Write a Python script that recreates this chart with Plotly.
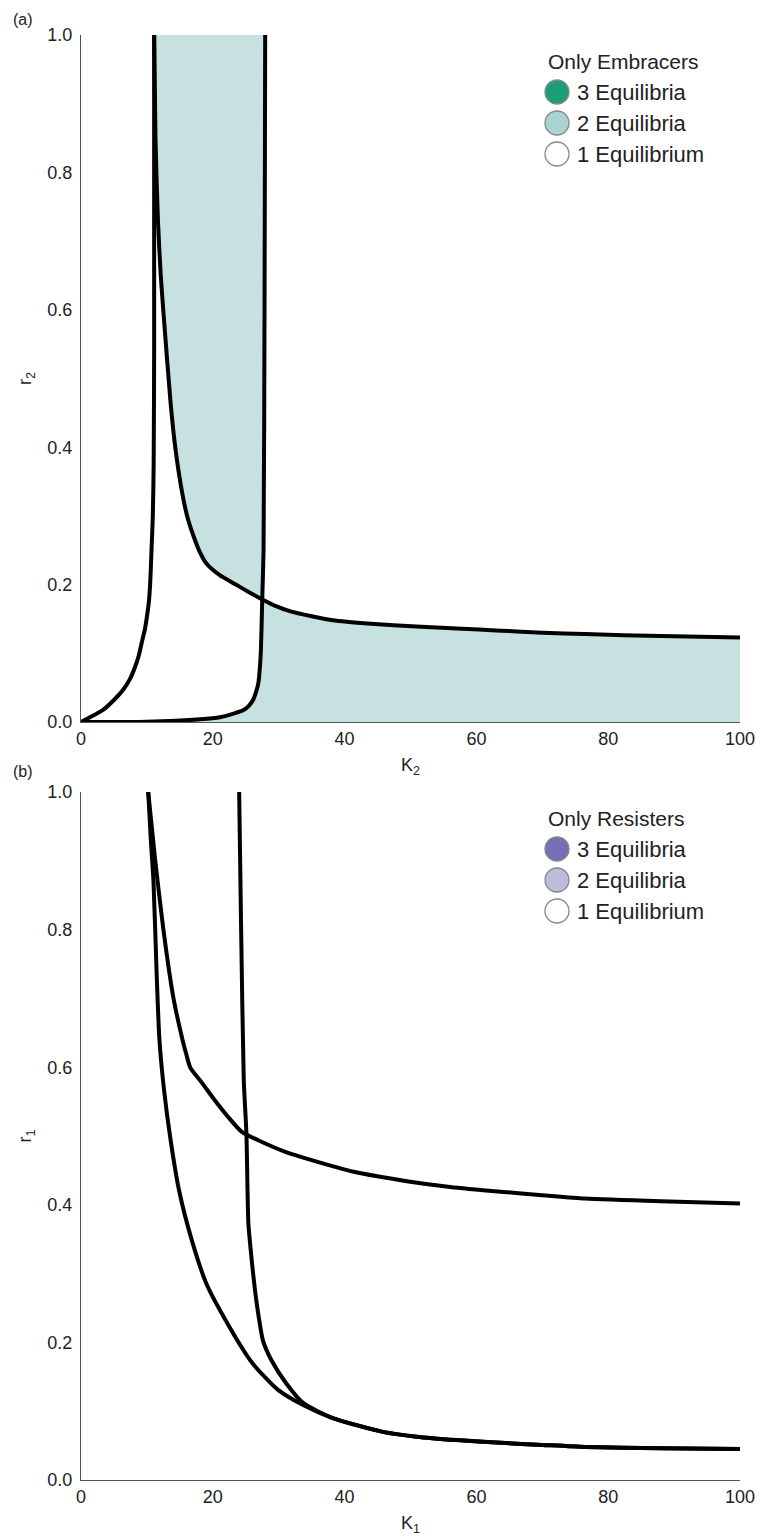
import plotly.graph_objects as go

# ---------------- Data ----------------
# Panel (a): Only Embracers  (x = K2, y = r2)
a1_K = [0, 3.4, 5.0, 6.4, 7.4, 8.2, 8.8, 9.2, 9.7, 10.0, 10.3, 10.5, 10.7, 10.9, 11.03, 11.1, 11.1]
a1_r = [0, 0.018, 0.032, 0.047, 0.062, 0.08, 0.098, 0.115, 0.135, 0.153, 0.175, 0.202, 0.25, 0.30, 0.38, 0.55, 1.0]

a2_K = [0, 10.0, 18.1, 21.1, 23.4, 24.6, 25.5, 26.1, 26.6, 26.9, 27.15, 27.3, 27.5, 27.7, 27.85, 27.95]
a2_r = [0, 0.0005, 0.004, 0.007, 0.013, 0.017, 0.024, 0.032, 0.045, 0.056, 0.08, 0.105, 0.178, 0.25, 0.6, 1.0]

a3_K = [11.1, 11.3, 11.67, 12.1, 12.6, 13.6, 14.3, 15.2, 16.1, 17.1, 18.0, 19.0, 21.0, 23.5, 25.5, 27.6,
        29.5, 31.8, 35.0, 38.2, 44.0, 50.9, 57.0, 63.7, 70.0, 76.5, 88.0, 100]
a3_r = [1.0, 0.85, 0.731, 0.65, 0.585, 0.464, 0.40, 0.342, 0.30, 0.27, 0.248, 0.231, 0.214, 0.2, 0.189, 0.178,
        0.169, 0.161, 0.154, 0.148, 0.143, 0.139, 0.136, 0.133, 0.130, 0.128, 0.125, 0.123]

# crossing of a2 and a3
cross_K, cross_r = 27.55, 0.178

# Panel (b): Only Resisters (x = K1, y = r1)
b1_K = [10.2, 10.6, 11.0, 11.5, 11.9, 12.6, 13.6, 14.9, 16.8, 19.0, 22.2, 26.0, 29.9, 33.7, 38.2, 45.8,
        50.9, 57.0, 63.7, 70.0, 76.5, 88.0, 100]
b1_r = [1.0, 0.93, 0.87, 0.73, 0.64, 0.567, 0.494, 0.42, 0.349, 0.286, 0.228, 0.17, 0.131, 0.109, 0.09, 0.07,
        0.063, 0.058, 0.054, 0.051, 0.048, 0.046, 0.045]

b2_K = [10.2, 11.2, 12.5, 14.0, 15.4, 16.0, 16.6, 18.3, 20.3, 22.3, 24.4, 27.3, 31.0, 35.0, 41.4, 49.7,
        56.0, 63.7, 70.0, 76.5, 88.0, 100]
b2_r = [1.0, 0.906, 0.80, 0.702, 0.64, 0.618, 0.599, 0.578, 0.552, 0.528, 0.506, 0.492, 0.477, 0.465, 0.448, 0.434,
        0.426, 0.419, 0.414, 0.409, 0.405, 0.402]

b3_K = [24.0, 24.3, 24.7, 25.1, 25.4, 25.9, 26.4, 27.0, 27.6, 28.9, 31.1, 33.7]
b3_r = [1.0, 0.8, 0.581, 0.504, 0.373, 0.32, 0.276, 0.235, 0.203, 0.174, 0.141, 0.112]

x_ticks = [0, 20, 40, 60, 80, 100]
y_ticks = [0.0, 0.2, 0.4, 0.6, 0.8, 1.0]

legend_a_title = "Only Embracers"
legend_b_title = "Only Resisters"
legend_labels = ["3 Equilibria", "2 Equilibria", "1 Equilibrium"]
legend_a_colors = ["#1b9e77", "#a9d4d1", "#ffffff"]
legend_b_colors = ["#7570b3", "#bcbddc", "#ffffff"]
fill_a_color = "#c6e1df"

# ---------------- Figure ----------------
W, H = 761, 1539
ML, MR, MT, MB = 81, 21, 35, 59
plot_w = W - ML - MR
plot_h = H - MT - MB
FONT = "Liberation Sans, Arial, Helvetica, sans-serif"
TXT = "#222222"


def px_x(px):
    return (px - ML) / plot_w


def px_y(py):
    return (H - MB - py) / plot_h


fig = go.Figure()

# ----- fills for panel (a) -----
upper_idx = [i for i, r in enumerate(a3_r) if r > cross_r]
lower3_idx = [i for i, r in enumerate(a3_r) if r < cross_r]
upper2_idx = [i for i, r in enumerate(a2_r) if r > cross_r]
lower2_idx = [i for i, r in enumerate(a2_r) if r < cross_r]

poly1_x = [a3_K[i] for i in upper_idx] + [cross_K] + [a2_K[i] for i in upper2_idx]
poly1_y = [a3_r[i] for i in upper_idx] + [cross_r] + [a2_r[i] for i in upper2_idx]
fig.add_trace(go.Scatter(x=poly1_x, y=poly1_y, fill="toself", fillcolor=fill_a_color,
                         mode="none", showlegend=False, hoverinfo="skip", xaxis="x", yaxis="y"))

poly2_x = [cross_K] + [a2_K[i] for i in reversed(lower2_idx)] + [a3_K[-1]] + \
          [a3_K[i] for i in reversed(lower3_idx)]
poly2_y = [cross_r] + [a2_r[i] for i in reversed(lower2_idx)] + [0] + \
          [a3_r[i] for i in reversed(lower3_idx)]
fig.add_trace(go.Scatter(x=poly2_x, y=poly2_y, fill="toself", fillcolor=fill_a_color,
                         mode="none", showlegend=False, hoverinfo="skip", xaxis="x", yaxis="y"))

LW = 4
line_style = dict(color="black", width=LW, shape="spline", smoothing=0.6)
for kx, ry in [(a1_K, a1_r), (a2_K, a2_r), (a3_K, a3_r)]:
    fig.add_trace(go.Scatter(x=kx, y=ry, mode="lines", line=line_style, showlegend=False,
                             xaxis="x", yaxis="y"))

# panel (b)
b3_full_K = b3_K + [k for k in b1_K if k > b3_K[-1]]
b3_full_r = b3_r + [r for k, r in zip(b1_K, b1_r) if k > b3_K[-1]]
for kx, ry in [(b1_K, b1_r), (b2_K, b2_r), (b3_full_K, b3_full_r)]:
    fig.add_trace(go.Scatter(x=kx, y=ry, mode="lines", line=line_style, showlegend=False,
                             xaxis="x2", yaxis="y2"))

top_a_px, bot_a_px = 35, 722
top_b_px, bot_b_px = 792, 1480

axis_common = dict(
    showgrid=False, zeroline=False, showline=True, linecolor="#555555", linewidth=1.2,
    ticks="", tickfont=dict(family=FONT, size=18, color=TXT), automargin=False,
)
title_font = dict(size=18, family=FONT, color=TXT)

fig.update_layout(
    width=W, height=H, autosize=False,
    margin=dict(l=ML, r=MR, t=MT, b=MB),
    paper_bgcolor="white", plot_bgcolor="white",
    font=dict(family=FONT, color=TXT),
    xaxis=dict(domain=[0, 1], range=[0, 100], tickvals=x_ticks, anchor="y",
               title=dict(text="K<sub>2</sub>", font=title_font, standoff=10),
               **axis_common),
    yaxis=dict(domain=[px_y(bot_a_px), px_y(top_a_px)], range=[0, 1], tickvals=y_ticks,
               tickformat=".1f", anchor="x", ticklabelstandoff=4,
               title=dict(text="r<sub>2</sub>", font=title_font, standoff=10),
               **axis_common),
    xaxis2=dict(domain=[0, 1], range=[0, 100], tickvals=x_ticks, anchor="y2",
                title=dict(text="K<sub>1</sub>", font=title_font, standoff=10),
                **axis_common),
    yaxis2=dict(domain=[px_y(bot_b_px), px_y(top_b_px)], range=[0, 1], tickvals=y_ticks,
                tickformat=".1f", anchor="x2", ticklabelstandoff=4,
                title=dict(text="r<sub>1</sub>", font=title_font, standoff=10),
                **axis_common),
    showlegend=False,
)

annotations = []
shapes = []

# panel labels
annotations.append(dict(text="(a)", x=px_x(11), y=px_y(19), xref="paper", yref="paper",
                        xanchor="left", yanchor="middle", showarrow=False,
                        font=dict(family=FONT, size=16, color=TXT)))
annotations.append(dict(text="(b)", x=px_x(11), y=px_y(771), xref="paper", yref="paper",
                        xanchor="left", yanchor="middle", showarrow=False,
                        font=dict(family=FONT, size=16, color=TXT)))


def add_legend(top_px, title, colors):
    annotations.append(dict(text=title, x=px_x(546), y=px_y(top_px + 26), xref="paper", yref="paper",
                            xanchor="left", yanchor="middle", showarrow=False,
                            font=dict(family=FONT, size=21, color=TXT)))
    for i, (lab, col) in enumerate(zip(legend_labels, colors)):
        cy = top_px + 57 + 31 * i
        shapes.append(dict(type="circle", xref="paper", yref="paper",
                           xsizemode="pixel", ysizemode="pixel",
                           xanchor=px_x(557), yanchor=px_y(cy),
                           x0=-12, x1=12, y0=-12, y1=12,
                           fillcolor=col, line=dict(color="#888888", width=1.3)))
        annotations.append(dict(text=lab, x=px_x(575), y=px_y(cy), xref="paper", yref="paper",
                                xanchor="left", yanchor="middle", showarrow=False,
                                font=dict(family=FONT, size=22, color=TXT)))


add_legend(top_a_px, legend_a_title, legend_a_colors)
add_legend(top_b_px, legend_b_title, legend_b_colors)

fig.update_layout(annotations=annotations, shapes=shapes)

fig.write_html("out.html")
